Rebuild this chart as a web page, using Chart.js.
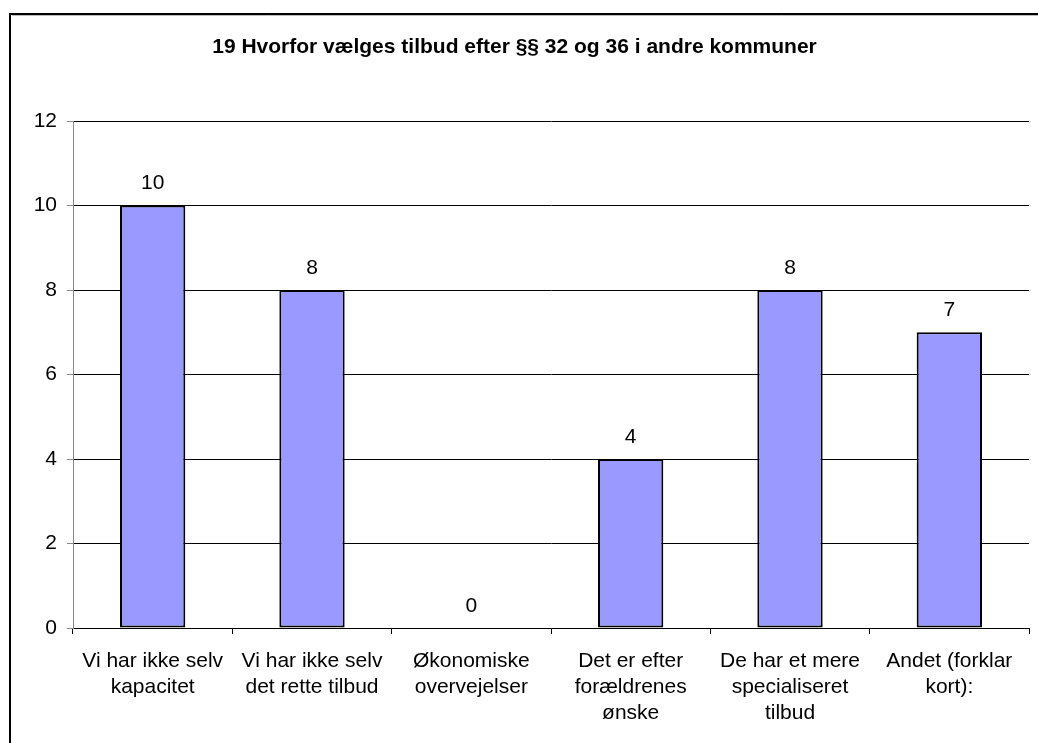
<!DOCTYPE html>
<html>
<head>
<meta charset="utf-8">
<script src="https://cdn.jsdelivr.net/npm/chart.js@4"></script>
<style>
html,body{margin:0;padding:0;background:#fff;}
#wrap{width:1038px;height:743px;position:relative;}
</style>
</head>
<body>
<div id="wrap"><canvas id="c" width="1038" height="743"></canvas></div>
<script>
const categories = [
  ["Vi har ikke selv", "kapacitet"],
  ["Vi har ikke selv", "det rette tilbud"],
  ["Økonomiske", "overvejelser"],
  ["Det er efter", "forældrenes", "ønske"],
  ["De har et mere", "specialiseret", "tilbud"],
  ["Andet (forklar", "kort):"]
];
const values = [10, 8, 0, 4, 8, 7];
const yTicks = [0, 2, 4, 6, 8, 10, 12];
const titleText = "19 Hvorfor vælges tilbud efter §§ 32 og 36 i andre kommuner";

const FONT = "'Liberation Sans', Arial, sans-serif";

const framePlugin = {
  id: 'frame',
  beforeDraw(chart) {
    const ctx = chart.ctx;
    ctx.save();
    ctx.fillStyle = '#fff';
    ctx.fillRect(0, 0, chart.width, chart.height);
    ctx.strokeStyle = '#000';
    ctx.lineWidth = 2;
    ctx.strokeRect(10, 14, 1100, 800);
    ctx.strokeStyle = '#bbb';
    ctx.lineWidth = 1;
    ctx.beginPath();
    ctx.moveTo(12, 15.5);
    ctx.lineTo(1038, 15.5);
    ctx.stroke();
    ctx.restore();
  }
};

const valueLabels = {
  id: 'valueLabels',
  afterDatasetsDraw(chart) {
    const ctx = chart.ctx;
    const meta = chart.getDatasetMeta(0);
    ctx.save();
    ctx.font = "21px " + FONT;
    ctx.fillStyle = '#000';
    ctx.textAlign = 'center';
    ctx.textBaseline = 'middle';
    meta.data.forEach((bar, i) => {
      ctx.fillText(String(values[i]), bar.x, bar.y - 22);
    });
    ctx.restore();
  }
};

new Chart(document.getElementById('c'), {
  type: 'bar',
  data: {
    labels: categories,
    datasets: [{
      data: values,
      backgroundColor: '#9999FF',
      borderColor: '#000',
      borderWidth: 2,
      borderSkipped: false,
      barPercentage: 1,
      categoryPercentage: 0.41
    }]
  },
  options: {
    responsive: false,
    animation: false,
    devicePixelRatio: 1,
    layout: { padding: { left: 0, right: 9, top: 0, bottom: 0 } },
    plugins: {
      legend: { display: false },
      tooltip: { enabled: false },
      title: {
        display: true,
        text: titleText,
        color: '#000',
        font: { family: FONT, size: 21, weight: 'bold', lineHeight: 1.2 },
        padding: { top: 34.4, bottom: 61.4 }
      }
    },
    scales: {
      x: {
        afterFit(s) { s.height = 115; },
        grid: {
          display: true,
          drawOnChartArea: false,
          drawTicks: true,
          tickLength: 6,
          color: '#000',
          offset: true
        },
        border: { display: true, color: '#000', width: 1 },
        ticks: {
          color: '#000',
          font: { family: FONT, size: 21, lineHeight: 1.24 },
          padding: 14,
          maxRotation: 0,
          autoSkip: false
        }
      },
      y: {
        min: 0,
        max: 12,
        afterFit(s) { s.width = 73; },
        afterBuildTicks(s) { s.ticks = yTicks.map(v => ({ value: v })); },
        grid: {
          color: '#000',
          tickColor: '#888',
          tickLength: 6,
          drawTicks: true
        },
        border: { display: true, color: '#888', width: 1 },
        ticks: {
          color: '#000',
          font: { family: FONT, size: 21 },
          padding: 10
        }
      }
    }
  },
  plugins: [framePlugin, valueLabels]
});
</script>
</body>
</html>
